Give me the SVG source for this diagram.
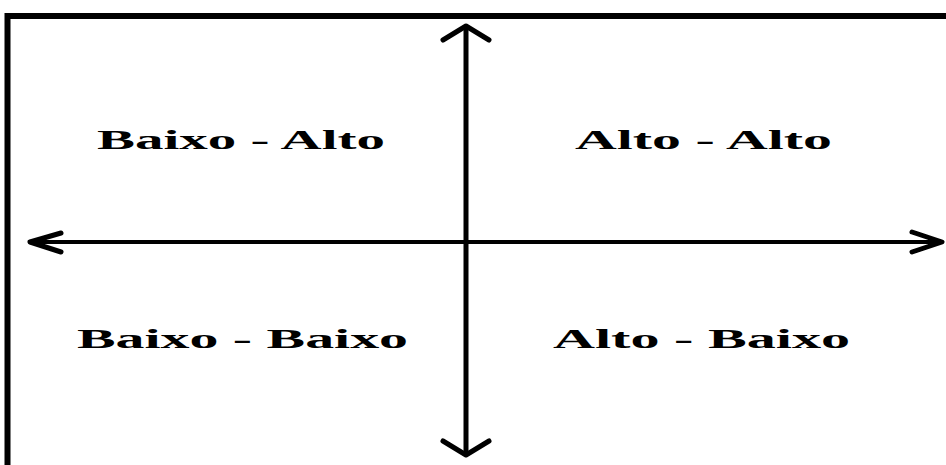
<svg xmlns="http://www.w3.org/2000/svg" width="946" height="465" viewBox="0 0 946 465">
<style>
.frame{fill:none;stroke:#000;stroke-width:6}
.axis{fill:none;stroke:#000;stroke-linecap:round;stroke-linejoin:round}
.lbl{font-family:"Liberation Serif","Times New Roman",serif;font-weight:bold;font-size:27px;fill:#000}
</style>
<rect width="946" height="465" fill="#fff"/>
<g id="frame"><path class="frame" d="M7.5 470 V16 H950"/></g>
<g id="connectors">
<line class="axis" x1="466" y1="27" x2="466" y2="453" stroke-width="5"/>
<polyline class="axis" points="443,40 466,26 489,40" stroke-width="5"/>
<polyline class="axis" points="443,441 466,455 489,441" stroke-width="5"/>
<line class="axis" x1="30" y1="242" x2="941" y2="242" stroke-width="4"/>
<polyline class="axis" points="61,233 30,242 61,252" stroke-width="5"/>
<polyline class="axis" points="912,232 942,242 912,252" stroke-width="5"/>
</g>
<g id="q-baixo-alto"><text class="lbl" x="97" y="149" textLength="288" lengthAdjust="spacingAndGlyphs">Baixo - Alto</text></g>
<g id="q-alto-alto"><text class="lbl" x="575" y="149" textLength="257" lengthAdjust="spacingAndGlyphs">Alto - Alto</text></g>
<g id="q-baixo-baixo"><text class="lbl" x="77" y="348" textLength="331" lengthAdjust="spacingAndGlyphs">Baixo - Baixo</text></g>
<g id="q-alto-baixo"><text class="lbl" x="553" y="348" textLength="297" lengthAdjust="spacingAndGlyphs">Alto - Baixo</text></g>
</svg>
